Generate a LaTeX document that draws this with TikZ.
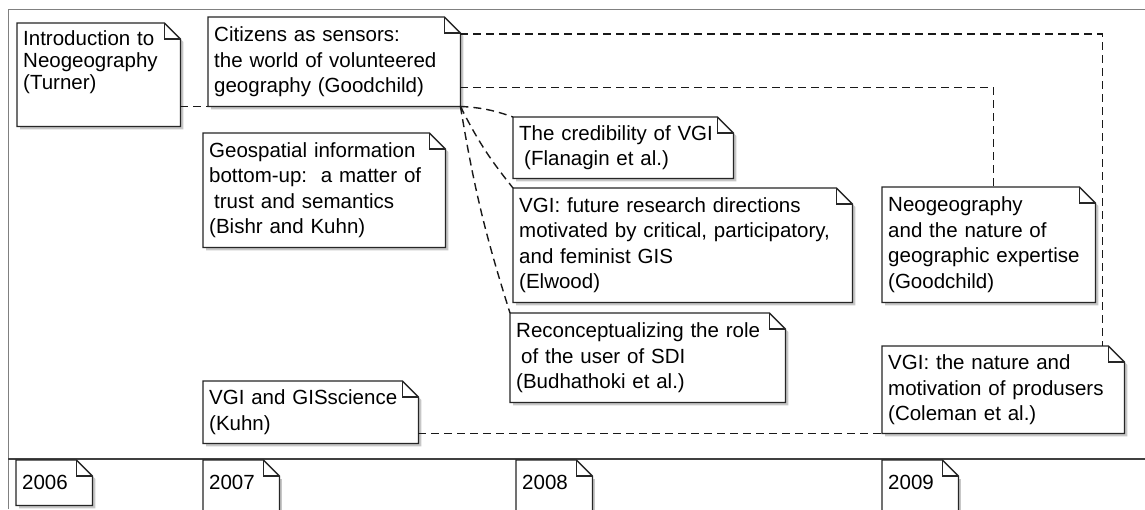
\documentclass[tikz,border=0pt]{standalone}
\usepackage{fontspec}
\setmainfont{Liberation Sans}
\usetikzlibrary{backgrounds}

\tikzset{
  note/.style={anchor=north west, align=left, inner xsep=6pt, inner ysep=0pt,
    font=\fontsize{20.5}{25.5}\selectfont},
  notebox/.style={draw=black!85, line width=1.3pt, fill=white, line join=miter},
  noteshadow/.style={fill=black!22},
  link/.style={draw=black!90, line width=1.4pt, dash pattern=on 8pt off 5pt},
}

\begin{document}
\begin{tikzpicture}[x=1pt, y=-1pt]
	\clip (0,0) rectangle (1145,509);

	%Notes
	\node[note, text width=151pt, minimum height=103pt, font=\fontsize{20.5}{22}\selectfont] (turner) at (17,23) {Introduction to\\Neogeography\\(Turner)\\\strut};
	\node[note, text width=240pt, minimum height=89pt] (citizens) at (208,17) {Citizens as sensors:\\the world of volunteered\\geography (Goodchild)};
	\node[note, text width=230pt, minimum height=114pt] (geo) at (203,133) {Geospatial information\\bottom-up:\ \ a matter of\\\hspace*{5pt}trust and semantics\\(Bishr and Kuhn)};
	\node[note, text width=208pt, minimum height=61pt] (cred) at (513,117) {The credibility of VGI\\\hspace*{5pt}(Flanagin et al.)};
	\node[note, text width=327pt, minimum height=114pt] (future) at (513,188) {VGI: future research directions\\motivated by critical, participatory,\\and feminist GIS\\(Elwood)};
	\node[note, text width=263pt, minimum height=89pt] (recon) at (510,313) {Reconceptualizing the role\\\hspace*{5pt}of the user of SDI\\(Budhathoki et al.)};
	\node[note, text width=201pt, minimum height=115pt] (neogeo) at (882,187) {Neogeography\\and the nature of\\geographic expertise\\(Goodchild)};
	\node[note, text width=230pt, minimum height=87pt] (coleman) at (882,346) {VGI: the nature and\\motivation of produsers\\(Coleman et al.)};
	\node[note, text width=203pt, minimum height=62pt] (kuhn) at (203,381) {VGI and GISscience\\(Kuhn)};

	%Years
	\node[note, text width=64pt, minimum height=45pt] (y2006) at (16,460) {2006};
	\node[note, text width=64pt, minimum height=45pt] (y2007) at (203,460) {2007};
	\node[note, text width=64pt, minimum height=45pt] (y2008) at (516,460) {2008};
	\node[note, text width=64pt, minimum height=45pt] (y2009) at (882,460) {2009};

	%Outlines
	\begin{scope}[on background layer]
		\fill[white] (0,0) rectangle (1145,509);
		\draw[black!50, line width=1pt] (8,509) -- (8,9) -- (1145,9);
		\draw[black!75, line width=1.6pt] (8,459) -- (1145,459);
		\foreach \n in {turner,citizens,geo,cred,future,recon,neogeo,coleman,kuhn,y2006}{
			\fill[noteshadow] ([shift={(3pt,-3pt)}]\n.south west) -- ([shift={(3pt,-3pt)}]\n.north west) -- ([shift={(-13pt,-3pt)}]\n.north east) -- ([shift={(3pt,-19pt)}]\n.north east) -- ([shift={(3pt,-3pt)}]\n.south east) -- cycle;
			\draw[notebox] (\n.south west) -- (\n.north west) -- ([xshift=-16pt]\n.north east) -- ([yshift=-16pt]\n.north east) -- (\n.south east) -- cycle;
			\draw[notebox, fill=none] ([xshift=-16pt]\n.north east) |- ([yshift=-16pt]\n.north east);
		}
		\foreach \n in {y2007,y2008,y2009}{
			\fill[noteshadow] ([shift={(0pt,-19pt)}]\n.north east) rectangle ([shift={(3pt,-80pt)}]\n.south east);
			\draw[notebox] ([yshift=-80pt]\n.south west) -- (\n.north west) -- ([xshift=-16pt]\n.north east) -- ([yshift=-16pt]\n.north east) -- ([yshift=-80pt]\n.south east);
			\draw[notebox, fill=none] ([xshift=-16pt]\n.north east) |- ([yshift=-16pt]\n.north east);
		}
	\end{scope}

	%Links
	\draw[link] (citizens.south west -| turner.east) -- (citizens.south west);
	\draw[link] ([yshift=-17pt]citizens.north east) -| ([xshift=-22pt]coleman.north east);
	\draw[link] ([yshift=19pt]citizens.south east) -| ([xshift=5pt]neogeo.north);
	\draw[link] (citizens.south east) to[bend left=8] (cred.north west);
	\draw[link] (citizens.south east) to[bend right=6] (future.north west);
	\draw[link] (citizens.south east) to[bend right=4] (recon.north west);
	\draw[link] (coleman.south west -| kuhn.east) -- (coleman.south west);
\end{tikzpicture}
\end{document}
